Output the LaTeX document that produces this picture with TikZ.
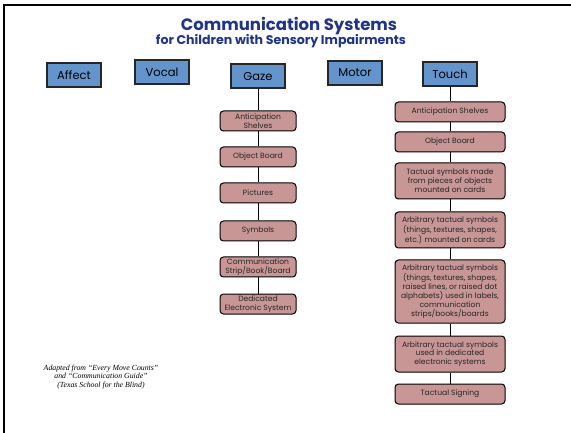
\documentclass[tikz,border=0pt]{standalone}
\usepackage{fontspec}
\setmainfont{Poppins}
\newfontfamily\notefont{Liberation Serif}
\definecolor{titleblue}{RGB}{32,52,138}
\definecolor{headblue}{RGB}{100,148,204}
\definecolor{itempink}{RGB}{201,150,150}
\begin{document}
\begin{tikzpicture}[x=1pt,y=-1pt,
  head/.style={draw=black!85,line width=1.3pt,fill=headblue,minimum width=54pt,minimum height=24pt,inner sep=0pt,font=\fontsize{11.5}{13}\selectfont},
  item/.style={draw=black,line width=1pt,fill=itempink,rounded corners=3.5pt,inner sep=0pt,align=center,font=\fontsize{7.6}{8.9}\selectfont\color{black!85}},
  gitem/.style={item,minimum width=76pt,minimum height=20pt},
  titem/.style={item,minimum width=110pt,minimum height=20pt}]

\useasboundingbox (0,0) rectangle (571,433);
\fill[white] (0,0) rectangle (571,433);
\draw[line width=2.4pt] (4,433) -- (4,5) -- (571,5);

% title
\node[inner sep=0pt,font=\bfseries\fontsize{16.5}{17}\selectfont,text=titleblue] (title) at (289,26) {Communication Systems};
\node[inner sep=0pt,font=\bfseries\fontsize{12.6}{13}\selectfont,text=titleblue] (subtitle) at (281,41) {for Children with Sensory Impairments};

% the five systems
\node[head] (affect) at (74,75) {Affect};
\node[head] (vocal) at (162,72) {Vocal};
\node[head] (gaze) at (258,76) {Gaze};
\node[head] (motor) at (355,73) {Motor};
\node[head] (touch) at (450,74) {Touch};

% gaze column
\node[gitem] (g1) at (258,121) {Anticipation\\Shelves};
\node[gitem] (g2) at (258,157) {Object Board};
\node[gitem] (g3) at (258,193) {Pictures};
\node[gitem] (g4) at (258,231) {Symbols};
\node[gitem] (g5) at (258,267) {Communication\\Strip/Book/Board};
\node[gitem] (g6) at (258,304) {Dedicated\\Electronic System};

% touch column
\node[titem] (t1) at (450,112) {Anticipation Shelves};
\node[titem] (t2) at (450,142) {Object Board};
\node[titem,minimum height=36pt] (t3) at (450,181) {Tactual symbols made\\from pieces of objects\\mounted on cards};
\node[titem,minimum height=36pt] (t4) at (450,230) {Arbitrary tactual symbols\\(things, textures, shapes,\\etc.) mounted on cards};
\node[titem,minimum height=63pt] (t5) at (450,291.5) {Arbitrary tactual symbols\\(things, textures, shapes,\\raised lines, or raised dot\\alphabets) used in labels,\\communication\\strips/books/boards};
\node[titem,minimum height=36pt] (t6) at (450,354) {Arbitrary tactual symbols\\used in dedicated\\electronic systems};
\node[titem] (t7) at (450,394) {Tactual Signing};

\draw[line width=1pt] (gaze) -- (g1) -- (g2) -- (g3) -- (g4) -- (g5) -- (g6);
\draw[line width=1pt] (touch) -- (t1) -- (t2) -- (t3) -- (t4) -- (t5) -- (t6) -- (t7);

% source
\node[font=\notefont\itshape\fontsize{7.8}{8.2}\selectfont,align=center] (source) at (101,377) {Adapted from “Every Move Counts”\\and “Communication Guide”\\(Texas School for the Blind)};
\end{tikzpicture}
\end{document}
